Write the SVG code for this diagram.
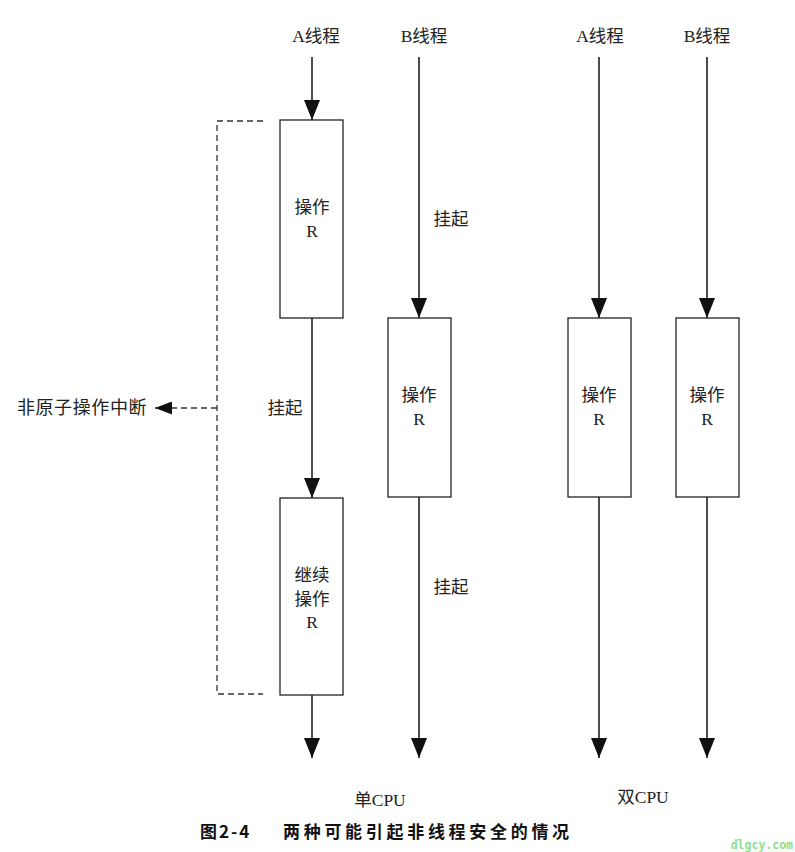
<svg xmlns="http://www.w3.org/2000/svg" width="795" height="852" viewBox="0 0 795 852">
<style>
.t{font-family:"Liberation Serif","Noto Sans CJK SC",serif;font-size:17.5px;fill:#222;text-anchor:middle}
.box{fill:#fff;stroke:#222;stroke-width:1.3}
.ln{stroke:#111;stroke-width:1.5;fill:none}
.dash{stroke:#333;stroke-width:1.3;fill:none;stroke-dasharray:6,4}
.cap{font-family:"Noto Sans CJK SC","Liberation Sans",sans-serif;font-size:17px;font-weight:bold;fill:#111}
</style>
<defs>
<marker id="ah" viewBox="0 0 20 16" refX="20" refY="8" markerWidth="20" markerHeight="16" orient="auto" markerUnits="userSpaceOnUse"><path d="M0,0 L20,8 L0,16 Z" fill="#111"/></marker>
<marker id="ahs" viewBox="0 0 17 13" refX="17" refY="6.5" markerWidth="17" markerHeight="13" orient="auto" markerUnits="userSpaceOnUse"><path d="M0,0 L17,6.5 L0,13 Z" fill="#111"/></marker>
</defs>
<rect width="795" height="852" fill="#fff"/>
<g id="connectors">
<line class="ln" x1="312" y1="57" x2="312" y2="120" marker-end="url(#ah)"/>
<line class="ln" x1="312" y1="318" x2="312" y2="498" marker-end="url(#ah)"/>
<line class="ln" x1="312" y1="695" x2="312" y2="758" marker-end="url(#ah)"/>
<line class="ln" x1="419" y1="57" x2="419" y2="318" marker-end="url(#ah)"/>
<line class="ln" x1="419" y1="497" x2="419" y2="758" marker-end="url(#ah)"/>
<line class="ln" x1="599" y1="57" x2="599" y2="318" marker-end="url(#ah)"/>
<line class="ln" x1="599" y1="497" x2="599" y2="758" marker-end="url(#ah)"/>
<line class="ln" x1="707" y1="57" x2="707" y2="318" marker-end="url(#ah)"/>
<line class="ln" x1="707" y1="497" x2="707" y2="758" marker-end="url(#ah)"/>
<path class="dash" d="M263,121 H217 V694 H263"/>
<line class="dash" x1="217" y1="408" x2="155" y2="408" marker-end="url(#ahs)"/>
</g>
<g id="labels">
<text class="t" x="316" y="42">A线程</text>
<text class="t" x="424" y="42">B线程</text>
<text class="t" x="600" y="42">A线程</text>
<text class="t" x="707" y="42">B线程</text>
<text class="t" x="451" y="225">挂起</text>
<text class="t" x="285" y="414">挂起</text>
<text class="t" x="451" y="593">挂起</text>
<text class="t" x="82" y="414" style="font-size:18px;letter-spacing:0.6px">非原子操作中断</text>
<text class="t" x="380" y="806">单CPU</text>
<text class="t" x="643" y="803">双CPU</text>
<text class="cap" x="200" y="838" style="letter-spacing:2px">图2-4</text>
<text class="cap" x="283" y="838" style="letter-spacing:3.7px">两种可能引起非线程安全的情况</text>
<text x="793" y="849" style="font-family:'DejaVu Sans Mono',monospace;font-size:11.5px;font-weight:bold;fill:#8be08b;text-anchor:end">dlgcy.com</text>
</g>
<g id="box1"><rect class="box" x="280" y="120" width="63" height="198"/><text class="t" x="312" y="213">操作</text><text class="t" x="312" y="237">R</text></g>
<g id="box2"><rect class="box" x="280" y="498" width="63" height="197"/><text class="t" x="312" y="581">继续</text><text class="t" x="312" y="605">操作</text><text class="t" x="312" y="628">R</text></g>
<g id="box3"><rect class="box" x="388" y="318" width="63" height="179"/><text class="t" x="419" y="401">操作</text><text class="t" x="419" y="425">R</text></g>
<g id="box4"><rect class="box" x="568" y="318" width="63" height="179"/><text class="t" x="599" y="401">操作</text><text class="t" x="599" y="425">R</text></g>
<g id="box5"><rect class="box" x="676" y="318" width="63" height="179"/><text class="t" x="707" y="401">操作</text><text class="t" x="707" y="425">R</text></g>
</svg>
